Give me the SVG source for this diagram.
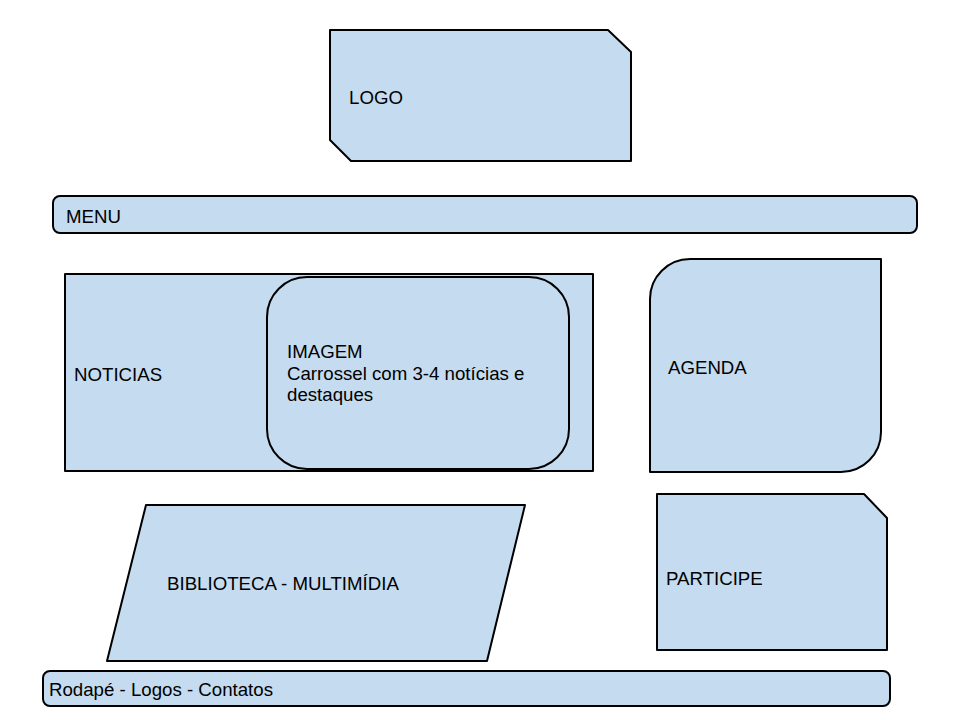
<svg xmlns="http://www.w3.org/2000/svg" width="960" height="720" viewBox="0 0 960 720">
<style>
.s{fill:#c5dbef;stroke:#000;stroke-width:2;stroke-linejoin:round}
.t{font-family:"Liberation Sans",Arial,sans-serif;font-size:18.67px;fill:#000}
</style>
<rect width="960" height="720" fill="#fff"/>
<g id="logo">
<path class="s" d="M330,30 H608 L631,52 V161 H351 L330,140 Z"/>
<text class="t" x="349" y="104">LOGO</text>
</g>
<g id="menu">
<rect class="s" x="53" y="196" width="864" height="37" rx="7"/>
<text class="t" x="66" y="223">MENU</text>
</g>
<g id="noticias">
<rect class="s" x="65" y="274" width="528" height="197"/>
<text class="t" x="74" y="381">NOTICIAS</text>
</g>
<g id="imagem">
<rect class="s" x="267" y="277" width="302" height="192" rx="40"/>
<text class="t" x="287" y="358">IMAGEM</text>
<text class="t" x="287" y="380">Carrossel com 3-4 notícias e</text>
<text class="t" x="287" y="401">destaques</text>
</g>
<g id="agenda">
<path class="s" d="M690,259 H881 V432 A40,40 0 0 1 841,472 H650 V299 A40,40 0 0 1 690,259 Z"/>
<text class="t" x="668" y="374">AGENDA</text>
</g>
<g id="biblioteca">
<path class="s" d="M146,505 H525 L487,661 H107 Z"/>
<text class="t" x="167" y="590">BIBLIOTECA - MULTIMÍDIA</text>
</g>
<g id="participe">
<path class="s" d="M657,494 H864 L887,518 V650 H657 Z"/>
<text class="t" x="666" y="585">PARTICIPE</text>
</g>
<g id="rodape">
<rect class="s" x="43" y="671" width="847" height="35" rx="7"/>
<text class="t" x="49" y="696">Rodapé - Logos - Contatos</text>
</g>
<g id="connectors"/>
</svg>
